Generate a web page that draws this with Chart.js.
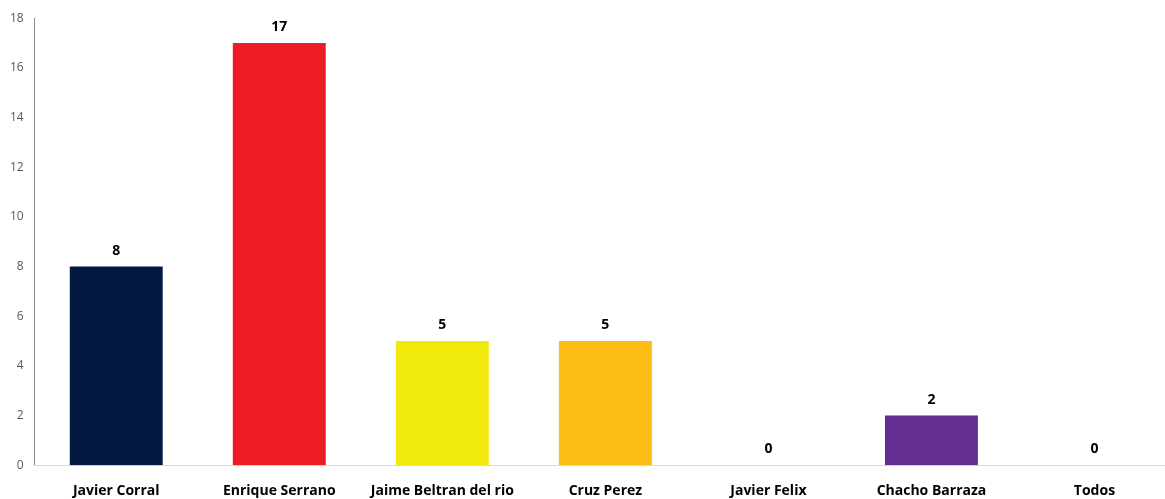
<!DOCTYPE html>
<html>
<head>
<meta charset="utf-8">
<script src="https://cdn.jsdelivr.net/npm/chart.js@4/dist/chart.umd.min.js"></script>
<style>
  html, body { margin: 0; padding: 0; background: #fff; overflow: hidden; }
  #wrap { width: 1176px; height: 499px; }
</style>
</head>
<body>
<div id="wrap"><canvas id="votos" width="1176" height="499"></canvas></div>
<script>
const categories = ['Javier Corral', 'Enrique Serrano', 'Jaime Beltran del rio', 'Cruz Perez', 'Javier Felix', 'Chacho Barraza', 'Todos'];
const values = [8, 17, 5, 5, 0, 2, 0];
const barColors = ['#041941', '#ed1c24', '#f2e90c', '#fbbc15', '#7f7f7f', '#662d91', '#7f7f7f'];
const yTicks = [0, 2, 4, 6, 8, 10, 12, 14, 16, 18];

// etiquetas encima de cada barra
const valueLabels = {
  id: 'valueLabels',
  afterDatasetsDraw(chart) {
    const c = chart.ctx;
    const meta = chart.getDatasetMeta(0);
    c.save();
    c.font = 'bold 14px "Open Sans", sans-serif';
    c.fillStyle = '#000';
    c.textAlign = 'center';
    c.textBaseline = 'middle';
    meta.data.forEach((bar, i) => {
      c.fillText(values[i], bar.x, bar.y - 16);
    });
    c.restore();
  }
};

new Chart(document.getElementById('votos'), {
  type: 'bar',
  data: {
    labels: categories,
    datasets: [{
      data: values,
      backgroundColor: barColors,
      barPercentage: 0.57,
      categoryPercentage: 1
    }]
  },
  options: {
    responsive: false,
    animation: false,
    layout: { padding: { top: 13, left: -1, right: 0, bottom: -17 } },
    plugins: {
      legend: { display: false },
      tooltip: { enabled: false }
    },
    scales: {
      y: {
        min: 0,
        max: 18,
        afterBuildTicks(axis) { axis.ticks = yTicks.map(v => ({ value: v })); },
        grid: { display: false, drawTicks: false },
        border: { display: true, color: '#8c8c8c', width: 1 },
        ticks: {
          padding: 11,
          color: '#595959',
          font: { family: '"Open Sans", sans-serif', size: 12 }
        }
      },
      x: {
        grid: { display: false, drawTicks: false },
        border: { display: true, color: '#d9d9d9', width: 1 },
        ticks: {
          padding: 17,
          color: '#000',
          maxRotation: 0,
          autoSkip: false,
          font: { family: '"Open Sans", sans-serif', size: 14, weight: 'bold' }
        }
      }
    }
  },
  plugins: [valueLabels]
});
</script>
</body>
</html>
